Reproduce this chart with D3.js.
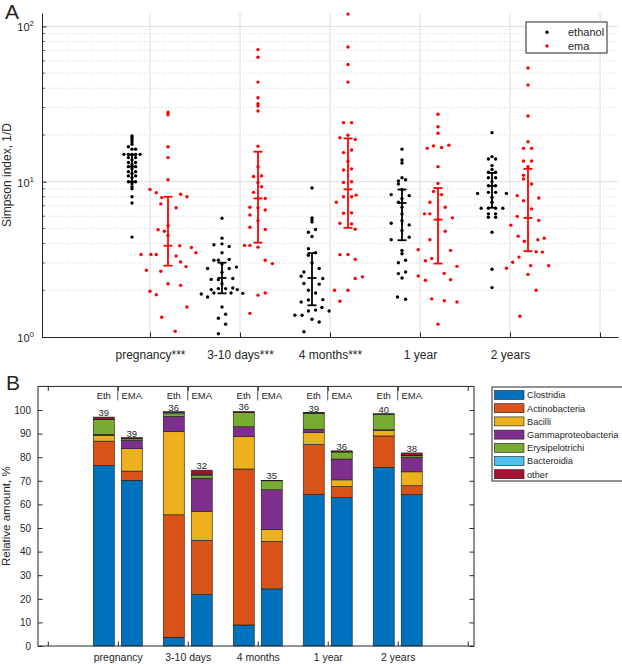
<!DOCTYPE html>
<html><head><meta charset="utf-8">
<script src="https://cdn.jsdelivr.net/npm/d3@7"></script>
<style>
body{margin:0;background:#fff}
svg{display:block}
text{font-family:"Liberation Sans",Arial,Helvetica,sans-serif;fill:#262626}
</style>
</head><body>
<svg id="c" width="622" height="664"></svg>
<script>
// ---------- Panel A data ----------
const groupLabelsA = ["pregnancy***","3-10 days***","4 months***","1 year","2 years"];
const seriesA = ["ethanol","ema"];
// [Simpson index value, horizontal jitter in category units]
const ethPregnancy = [[19.7,0],[19.2,0],[18.6,0],[18.0,0],[17.4,0],[16.8,-0.04],[16.2,0],[16.2,0.04],[15.0,-0.09],[15.0,-0.04],[15.0,0],[15.0,0.04],[15.0,0.09],[14.3,-0.04],[14.3,0.04],[13.8,0],[13.3,-0.04],[13.3,0.04],[12.9,0],[12.5,-0.04],[12.5,0.04],[12.1,0],[11.6,-0.04],[11.6,0.04],[11.3,0],[10.9,-0.04],[10.9,0.04],[10.6,0],[10.0,-0.04],[10.0,0],[10.0,0.04],[9.7,0],[9.3,0],[9.0,0],[8.0,0],[7.3,0],[4.4,0]];
const emaPregnancy = [[28.0,0],[27.0,0],[16.8,0],[14.3,0],[10.3,0],[8.9,-0.2],[8.5,-0.13],[8.3,0.14],[8.0,0.21],[7.9,-0.07],[7.2,-0.08],[6.8,0.09],[5.2,0],[4.9,-0.11],[4.8,-0.04],[4.5,0],[3.87,0.13],[3.77,0.26],[3.49,0.31],[3.4,-0.3],[3.4,-0.19],[3.4,-0.13],[3.32,0.09],[3.04,0.14],[2.84,0.2],[2.69,-0.24],[2.65,-0.08],[2.2,0],[2.15,0.14],[1.97,-0.2],[1.87,-0.13],[1.56,0.21],[1.34,-0.07],[1.09,0.08]];
const eth3to10 = [[5.82,0],[4.33,0],[3.98,0],[3.93,-0.09],[3.83,0.08],[3.49,0],[3.12,-0.09],[3.12,-0.04],[3.16,0.08],[2.95,0],[2.76,-0.16],[2.76,0.08],[2.82,0.16],[2.6,0],[2.35,-0.12],[2.34,-0.04],[2.38,0.12],[2.2,0],[2.02,-0.12],[1.92,-0.09],[2.05,-0.04],[2.05,0.04],[2.07,0.12],[2.02,0.17],[1.92,0.1],[1.89,-0.23],[1.81,-0.16],[1.91,0.23],[1.56,0],[1.40,0.04],[1.32,-0.04],[1.21,0.04],[1.05,-0.04]];
const ema3to10 = [[70.9,0],[63.3,0],[43.8,0],[34.7,0],[31.8,0],[30.7,0],[28.5,0],[16.9,0],[12.5,0],[10.8,-0.05],[10.9,0.04],[9.9,0],[9.29,0.04],[8.54,-0.05],[7.81,0.08],[6.84,-0.09],[6.8,0],[6.58,0.08],[6.11,-0.09],[5.6,0],[5.09,-0.09],[4.92,0.08],[3.89,-0.15],[3.89,-0.09],[3.79,0],[3.12,0.08],[2.97,0.16],[1.86,0],[1.92,0.08],[1.42,-0.09]];
const eth4months = [[9.12,0],[5.85,0],[5.68,0],[5.51,0],[4.73,-0.04],[4.92,0.04],[4.44,0],[3.70,-0.04],[3.49,0.04],[3.36,-0.04],[3.0,0],[2.76,0.08],[2.62,-0.09],[2.46,-0.12],[2.38,0.12],[2.21,-0.09],[2.19,0.08],[2.0,-0.04],[1.92,0.04],[1.68,-0.12],[1.73,-0.04],[1.74,0.12],[1.49,0.04],[1.47,-0.04],[1.55,0.11],[1.47,0.19],[1.38,-0.19],[1.38,-0.11],[1.30,0],[1.25,0.08],[1.08,-0.09]];
const ema4months = [[120,0],[73.7,0],[56.8,0],[43.8,0],[24.0,-0.05],[24.0,0.04],[19.2,-0.09],[19.9,0],[18.7,0.08],[15.4,-0.05],[16.0,0.04],[13.5,0],[11.9,-0.05],[12.1,0.04],[9.9,-0.05],[10.0,0.04],[8.0,-0.05],[8.0,0.04],[8.2,0.09],[7.37,-0.13],[6.26,-0.05],[6.3,0.04],[5.4,-0.09],[5.35,0.04],[4.95,0.08],[3.39,-0.09],[3.4,0],[3.16,0.08],[2.44,0.16],[2.38,0.08],[2.0,-0.15],[2.0,0],[1.70,-0.09]];
const eth1year = [[16.2,0],[13.8,0],[13.2,0],[10.6,0],[10.1,-0.04],[10.3,0.04],[9.67,-0.04],[8.9,0],[8.26,-0.12],[8.13,0.08],[7.8,0],[7.37,-0.04],[6.84,0],[6.2,0],[5.6,0],[5.4,-0.12],[5.27,0.08],[4.85,0],[4.23,-0.12],[4.39,0.08],[3.61,0],[3.44,0],[3.01,-0.04],[3.12,0.04],[2.56,-0.04],[2.62,0.04],[2.40,0],[1.81,-0.05],[1.75,0.04]];
const ema1year = [[27.2,0],[22.6,0],[20.5,0],[16.4,-0.12],[17.0,-0.05],[16.6,0.04],[17.2,0.12],[12.5,0],[9.75,0],[8.66,-0.05],[8.26,0.04],[7.37,-0.09],[6.84,0.08],[6.21,-0.15],[6.21,-0.09],[5.7,0],[5.85,0.16],[4.80,0.08],[4.23,-0.09],[3.65,-0.22],[3.61,0.14],[3.1,-0.14],[3.2,-0.07],[2.85,0.21],[2.47,-0.22],[2.57,0.07],[2.32,-0.14],[2.34,0.14],[1.76,-0.07],[1.71,0.07],[1.68,0.21],[1.21,0]];
const eth2years = [[20.7,0],[14.5,0],[14.0,-0.04],[14.0,0.04],[12.7,0],[12.0,0],[11.5,-0.04],[11.5,0.04],[10.6,-0.04],[10.6,0.04],[10.0,0],[9.42,-0.04],[9.42,0.04],[8.41,-0.16],[8.54,-0.04],[8.54,0.04],[8.41,0.16],[7.93,0],[7.37,0],[6.74,-0.12],[6.74,-0.04],[6.74,0.04],[6.74,0.12],[6.21,-0.04],[6.21,0.04],[5.9,-0.04],[5.9,0.04],[4.73,0],[2.73,0],[2.08,0]];
const ema2years = [[54.0,0],[41.9,0],[26.5,0],[18.1,0],[16.4,-0.05],[16.4,0.04],[13.6,-0.05],[13.6,0.04],[12.5,0],[11.0,-0.05],[10.4,-0.05],[9.67,0.04],[8.13,-0.12],[7.86,0.12],[7.55,-0.05],[6.68,0.04],[5.97,-0.12],[5.62,0.12],[5.25,-0.19],[4.46,-0.11],[4.14,-0.04],[4.23,0.11],[4.33,0.18],[3.54,0.09],[3.52,0.16],[3.27,-0.1],[3.03,-0.17],[2.77,-0.24],[2.88,0.03],[2.88,0.23],[2.53,0],[2.0,0.09],[1.36,-0.09]];
// error bars: [median, lower, upper]
const ethStats = [[12.5,10.0,14.9],[2.40,1.91,3.01],[2.40,1.60,3.47],[7.3,4.2,8.9],[9.4,6.8,11.4]];
const emaStats = [[3.87,2.88,8.0],[7.8,4.05,15.6],[8.93,5.05,19.0],[5.7,2.97,9.1],[5.85,3.57,12.1]];
const yTickValuesA = [1,10,100];

// ---------- Panel B data ----------
const groupLabelsB = ["pregnancy","3-10 days","4 months","1 year","2 years"];
const classes = ["Clostridia","Actinobacteria","Bacilli","Gammaproteobacteria","Erysipelotrichi","Bacteroidia","other"];
const classColors = ["#0072BD","#D95319","#EDB120","#7E2F8E","#77AC30","#4DBEEE","#A2142F"];
const ethComposition = [
  [76.5,10.3,2.5,0.4,6.3,0.1,0.9],
  [3.7,51.9,35.2,6.5,1.1,0.6,0.3],
  [8.9,66.1,13.8,4.1,6.0,0.1,0.4],
  [64.2,21.2,5.0,1.4,6.8,0.1,0.2],
  [75.7,13.3,2.4,0.2,6.6,0.1,0.1]];
const emaComposition = [
  [70.2,3.9,9.5,3.5,0.7,0.1,0.4],
  [21.8,23.0,12.3,14.0,1.3,0.4,1.7],
  [24.2,20.1,5.1,16.8,3.8,0.1,0.1],
  [62.9,4.7,2.8,8.8,3.0,0.1,0.4],
  [64.1,3.8,5.9,6.1,0.7,0.2,1.0]];
const ethN = [39,36,36,39,40];
const emaN = [39,32,35,36,38];
const yTickValuesB = d3.range(0,101,10);

const svg = d3.select("#c");
const ink = "#262626";

// ================= PANEL A =================
const xA = d3.scaleLinear().domain([-0.2,6.2]).range([42,618]);
const yA = d3.scaleLog().domain([1,122]).range([337,13]);
const gA = svg.append("g");

const minorVals = [];
[1,10,100].forEach(d=>{for(let m=2;m<=9;m++){const v=d*m; if(v<122) minorVals.push(v);}});
gA.selectAll(".mg").data(minorVals).enter().append("line")
  .attr("x1",xA(-0.2)).attr("x2",xA(6.2)).attr("y1",d=>yA(d)).attr("y2",d=>yA(d))
  .attr("stroke","#c8c8c8").attr("stroke-width",0.8).attr("stroke-dasharray","1,2");
gA.selectAll(".Mg").data([10,100]).enter().append("line")
  .attr("x1",xA(-0.2)).attr("x2",xA(6.2)).attr("y1",d=>yA(d)).attr("y2",d=>yA(d))
  .attr("stroke","#dcdcdc").attr("stroke-width",1);
gA.selectAll(".vg").data([1,2,3,4,5,6]).enter().append("line")
  .attr("x1",d=>xA(d)).attr("x2",d=>xA(d)).attr("y1",yA(1)).attr("y2",yA(122))
  .attr("stroke","#dcdcdc").attr("stroke-width",1);

const axB = d3.axisBottom(xA).tickValues([1,2,3,4,5,6]).tickSizeInner(-4.5).tickSizeOuter(0)
  .tickPadding(13).tickFormat(d=>groupLabelsA[d-1]||"");
const gxA = gA.append("g").attr("transform",`translate(0,${yA(1)})`).call(axB);
gxA.select(".domain").attr("stroke",ink);
gxA.selectAll(".tick line").attr("stroke",ink);
gxA.selectAll("text").attr("font-size",12).style("fill",ink).attr("font-family",null);

const axL = d3.axisLeft(yA).tickValues(yTickValuesA).tickSizeInner(-4.5).tickSizeOuter(0).tickFormat("");
const gyA = gA.append("g").attr("transform",`translate(${xA(-0.2)},0)`).call(axL);
gyA.select(".domain").attr("stroke",ink);
gyA.selectAll(".tick line").attr("stroke",ink);
gA.selectAll(".mt").data(minorVals).enter().append("line")
  .attr("x1",xA(-0.2)).attr("x2",xA(-0.2)+2.5).attr("y1",d=>yA(d)).attr("y2",d=>yA(d)).attr("stroke",ink);
yTickValuesA.forEach(v=>{
  const t = gA.append("text").attr("x",xA(-0.2)-8).attr("y",yA(v)+5).attr("text-anchor","end").attr("font-size",11);
  t.append("tspan").text("10");
  t.append("tspan").attr("dy",-5).attr("font-size",8).text(String(Math.round(Math.log10(v))));
});
gA.append("text").attr("transform",`translate(11,${(yA(1)+yA(122))/2}) rotate(-90)`)
  .attr("text-anchor","middle").attr("font-size",12).text("Simpson index, 1/D");

const ethA = [ethPregnancy,eth3to10,eth4months,eth1year,eth2years];
const emaA = [emaPregnancy,ema3to10,ema4months,ema1year,ema2years];
function drawSeries(arrs, off, color){
  arrs.forEach((arr,i)=>{
    gA.append("g").selectAll("circle").data(arr).enter().append("circle")
      .attr("cx",d=>xA(i+1+off+d[1])).attr("cy",d=>yA(d[0])).attr("r",1.7).attr("fill",color);
  });
}
drawSeries(ethA,-0.2,"#000000");
drawSeries(emaA,0.2,"#ff0000");
function drawErr(stats, off, color){
  stats.forEach((s,i)=>{
    const cx = xA(i+1+off), w=4.5;
    const g = gA.append("g").attr("stroke",color).attr("stroke-width",1.8);
    g.append("line").attr("x1",cx).attr("x2",cx).attr("y1",yA(s[1])).attr("y2",yA(s[2]));
    [s[0],s[1],s[2]].forEach(v=>g.append("line").attr("x1",cx-w).attr("x2",cx+w).attr("y1",yA(v)).attr("y2",yA(v)));
  });
}
drawErr(ethStats,-0.2,"#000000");
drawErr(emaStats,0.2,"#ff0000");

const lgA = gA.append("g");
lgA.append("rect").attr("x",526).attr("y",22).attr("width",81).attr("height",31).attr("fill","#fff").attr("stroke",ink);
seriesA.forEach((s,i)=>{
  lgA.append("circle").attr("cx",547).attr("cy",32.3+i*13.7).attr("r",1.7).attr("fill",i?"#ff0000":"#000");
  lgA.append("text").attr("x",568).attr("y",36.3+i*13.7).attr("font-size",11).text(s);
});
svg.append("text").attr("x",5).attr("y",19).attr("font-size",21).text("A");

// ================= PANEL B =================
const xB = d3.scaleLinear().domain([-0.14,6.09]).range([38,474]);
const yB = d3.scaleLinear().domain([0,110]).range([646,386.4]);
const gB = svg.append("g");

const rows = [];
groupLabelsB.forEach((g,i)=>{
  const e = {pos:i+1-0.2, n:ethN[i], tag:"Eth"}; classes.forEach((c,j)=>e[c]=ethComposition[i][j]); rows.push(e);
  const m = {pos:i+1+0.2, n:emaN[i], tag:"EMA"}; classes.forEach((c,j)=>m[c]=emaComposition[i][j]); rows.push(m);
});
const stacked = d3.stack().keys(classes)(rows);
const bw = xB(0.3)-xB(0);
stacked.forEach((layer,j)=>{
  gB.append("g").selectAll("rect").data(layer).enter().append("rect")
    .attr("x",d=>xB(d.data.pos)-bw/2).attr("width",bw)
    .attr("y",d=>yB(d[1])).attr("height",d=>yB(d[0])-yB(d[1]))
    .attr("fill",classColors[j]).attr("stroke","#1a1a1a").attr("stroke-width",0.6);
});
rows.forEach(r=>{
  const tot = d3.sum(classes,c=>r[c]);
  gB.append("text").attr("x",xB(r.pos)).attr("y",yB(tot)-1).attr("text-anchor","middle").attr("font-size",9.5).text(r.n);
  gB.append("text").attr("x",xB(r.pos)).attr("y",399).attr("text-anchor","middle").attr("font-size",9.5).text(r.tag);
});

gB.append("rect").attr("x",xB(-0.14)).attr("y",yB(110)).attr("width",xB(6.09)-xB(-0.14)).attr("height",yB(0)-yB(110))
  .attr("fill","none").attr("stroke",ink);
const axBL = d3.axisLeft(yB).tickValues(yTickValuesB).tickSizeInner(-4.5).tickSizeOuter(0).tickPadding(7);
const gyB = gB.append("g").attr("transform",`translate(${xB(-0.14)},0)`).call(axBL);
gyB.select(".domain").remove();
gyB.selectAll(".tick line").attr("stroke",ink);
gyB.selectAll("text").attr("font-size",10).style("fill",ink).attr("font-family",null);
const axBR = d3.axisRight(yB).tickValues(yTickValuesB).tickSizeInner(-4.5).tickSizeOuter(0).tickFormat("");
const gyBR = gB.append("g").attr("transform",`translate(${xB(6.09)},0)`).call(axBR);
gyBR.select(".domain").remove(); gyBR.selectAll(".tick line").attr("stroke",ink);
const axBB = d3.axisBottom(xB).tickValues([0,1,2,3,4,5,6]).tickSizeInner(-4.5).tickSizeOuter(0).tickPadding(8)
  .tickFormat(d=>groupLabelsB[d-1]||"");
const gxB = gB.append("g").attr("transform",`translate(0,${yB(0)})`).call(axBB);
gxB.select(".domain").remove(); gxB.selectAll(".tick line").attr("stroke",ink);
gxB.selectAll("text").attr("font-size",10.5).style("fill",ink).attr("font-family",null);
const axBT = d3.axisTop(xB).tickValues([0,1,2,3,4,5,6]).tickSizeInner(-4.5).tickSizeOuter(0).tickFormat("");
const gxBT = gB.append("g").attr("transform",`translate(0,${yB(110)})`).call(axBT);
gxBT.select(".domain").remove(); gxBT.selectAll(".tick line").attr("stroke",ink);
gB.selectAll(".sep").data([1,2,3,4,5]).enter().append("line")
  .attr("x1",d=>xB(d)).attr("x2",d=>xB(d)).attr("y1",yB(110)).attr("y2",yB(110)+14).attr("stroke",ink).attr("stroke-width",0.8);
gB.append("text").attr("transform",`translate(10,${(yB(0)+yB(110))/2}) rotate(-90)`)
  .attr("text-anchor","middle").attr("font-size",11.5).text("Relative amount, %");

const lgB = gB.append("g");
lgB.append("rect").attr("x",492).attr("y",387).attr("width",132).attr("height",94).attr("fill","#fff").attr("stroke",ink);
classes.forEach((c,j)=>{
  const cy = 395+j*13.2;
  lgB.append("rect").attr("x",494.5).attr("y",cy-4.5).attr("width",29.5).attr("height",9)
    .attr("fill",classColors[j]).attr("stroke","#1a1a1a").attr("stroke-width",0.6);
  lgB.append("text").attr("x",527).attr("y",cy+3.3).attr("font-size",9.2).text(c);
});
svg.append("text").attr("x",6).attr("y",390).attr("font-size",21).text("B");
</script>
</body></html>
